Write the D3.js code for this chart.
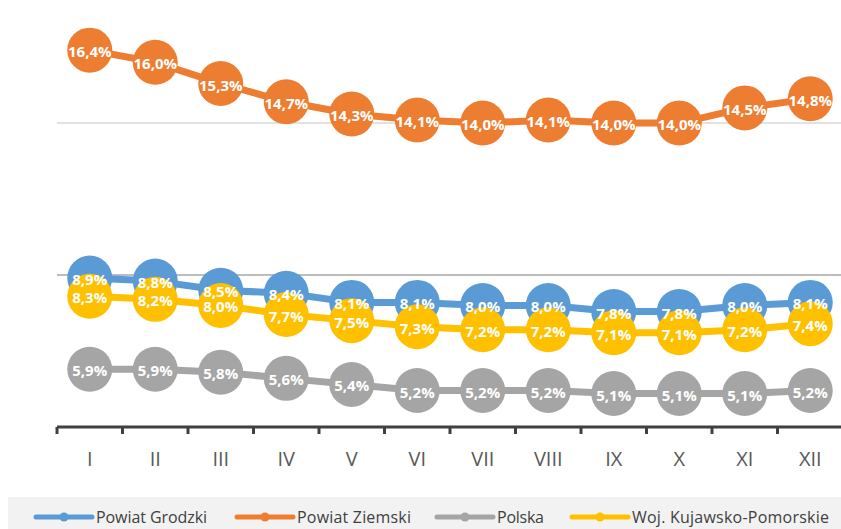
<!DOCTYPE html>
<html><head><meta charset="utf-8">
<script src="https://cdn.jsdelivr.net/npm/d3@7"></script>
<style>body{margin:0;background:#fff;}svg{display:block;}</style>
</head><body>
<svg id="c" width="841" height="529"></svg>
<script>
const categories = ["I","II","III","IV","V","VI","VII","VIII","IX","X","XI","XII"];
const seriesNames = ["Powiat Grodzki","Powiat Ziemski","Polska","Woj. Kujawsko-Pomorskie"];
const grodzki = [8.9,8.8,8.5,8.4,8.1,8.1,8.0,8.0,7.8,7.8,8.0,8.1];
const ziemski = [16.4,16.0,15.3,14.7,14.3,14.1,14.0,14.1,14.0,14.0,14.5,14.8];
const polska = [5.9,5.9,5.8,5.6,5.4,5.2,5.2,5.2,5.1,5.1,5.1,5.2];
const woj = [8.3,8.2,8.0,7.7,7.5,7.3,7.2,7.2,7.1,7.1,7.2,7.4];
const gridValues = [9,14];
const colors = ["#5B9BD5","#ED7D31","#A5A5A5","#FFC000"];

const series = [grodzki, ziemski, polska, woj].map((v,i)=>({name:seriesNames[i], values:v, color:colors[i]}));

const svg = d3.select("#c");
const x = d3.scaleBand().domain(categories).range([57, 843]);
const y = d3.scaleLinear().domain([4, 18.05]).range([427, 0]);

// gridlines
svg.selectAll("line.grid").data(gridValues).enter().append("line")
  .attr("x1", 57).attr("x2", 841)
  .attr("y1", d=>y(d)).attr("y2", d=>y(d))
  .attr("stroke", (d,i)=> i===0 ? "#a6a6a6" : "#d9d9d9").attr("stroke-width", 1.5);

// x axis
const axis = d3.axisBottom(x).tickSize(0).tickPadding(0);
const gx = svg.append("g").attr("transform", `translate(0,${y(4)})`).call(axis);
gx.select(".domain").remove();
gx.selectAll(".tick text").attr("y", 39).attr("dy", 0)
  .style("font-family","'Open Sans', sans-serif").style("font-size","20px").attr("fill","#595959");
svg.append("line").attr("x1",57).attr("x2",841).attr("y1",y(4)).attr("y2",y(4))
  .attr("stroke","#404040").attr("stroke-width",3);
const bounds = categories.map(c=>x(c));
svg.selectAll("line.tk").data(bounds).enter().append("line")
  .attr("x1",d=>d).attr("x2",d=>d).attr("y1",y(4)).attr("y2",y(4)+7)
  .attr("stroke","#404040").attr("stroke-width",3);

const cx = c => x(c) + x.bandwidth()/2;
const line = d3.line().x((d,i)=>cx(categories[i])).y(d=>y(d));

series.forEach(s=>{
  const g = svg.append("g");
  g.append("path").attr("d", line(s.values)).attr("fill","none")
    .attr("stroke", s.color).attr("stroke-width",7).attr("stroke-linejoin","round");
  g.selectAll("circle").data(s.values).enter().append("circle")
    .attr("cx",(d,i)=>cx(categories[i])).attr("cy",d=>y(d)).attr("r",22.5)
    .attr("fill", s.color);
});
const fmt = v => v.toFixed(1).replace(".", ",") + "%";
series.forEach(s=>{
  svg.append("g").selectAll("text").data(s.values).enter().append("text")
    .attr("x",(d,i)=>cx(categories[i])).attr("y",d=>y(d)+1)
    .attr("text-anchor","middle").attr("dominant-baseline","central")
    .style("font-family","'Open Sans', sans-serif").style("font-size","15px").style("font-weight","700")
    .attr("fill","#fff").text(d=>fmt(d));
});

// legend
svg.append("rect").attr("x",8).attr("y",497).attr("width",833).attr("height",32).attr("fill","#f2f2f2");
const legX = [36, 237, 437, 572];
const legW = [111, 114, 47, 197];
const lg = svg.selectAll("g.leg").data(series).enter().append("g")
  .attr("transform",(d,i)=>`translate(${legX[i]},517)`);
lg.append("line").attr("x1",0).attr("x2",56).attr("y1",0).attr("y2",0)
  .attr("stroke",d=>d.color).attr("stroke-width",5).attr("stroke-linecap","round");
lg.append("circle").attr("cx",28).attr("cy",0).attr("r",4.5).attr("fill",d=>d.color);
lg.append("text").attr("x",60).attr("y",0).attr("dominant-baseline","central")
  .attr("textLength",(d,i)=>legW[i]).attr("lengthAdjust","spacing")
  .style("font-family","'Open Sans', sans-serif").style("font-size","16px").attr("fill","#404040")
  .text(d=>d.name);
</script>
</body></html>
